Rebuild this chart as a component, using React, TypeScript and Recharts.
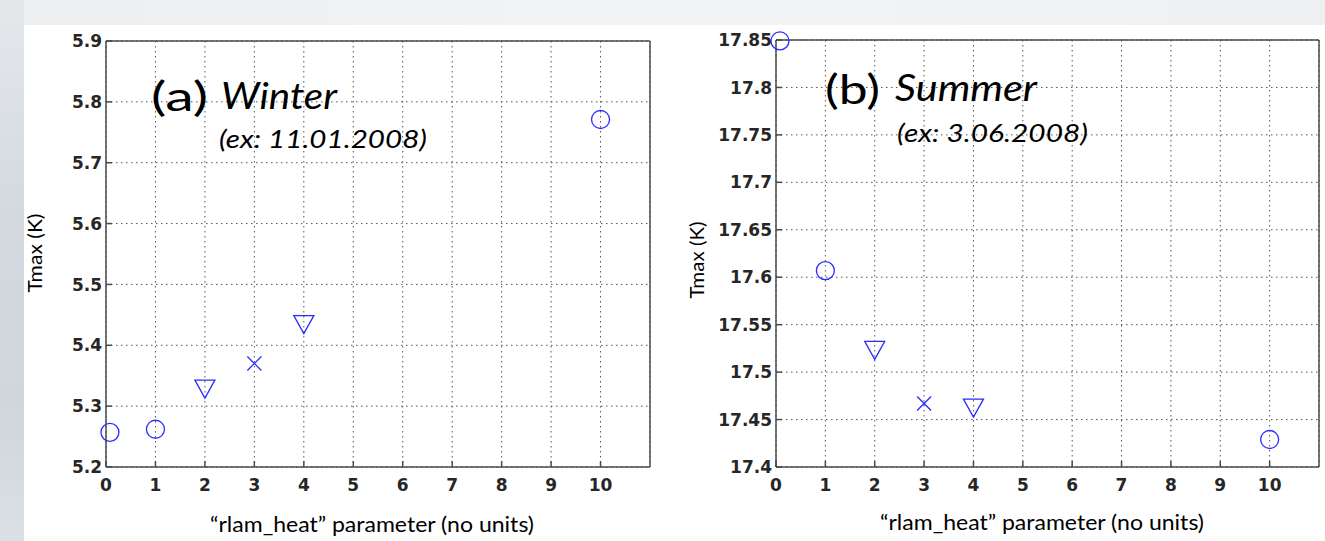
import React from "react";
import { ScatterChart, Scatter, XAxis, YAxis, CartesianGrid } from "recharts";

// values
const RLAM_X = [0.08, 1, 2, 3, 4, 10];
const WINTER_TMAX = [5.257, 5.262, 5.328, 5.37, 5.434, 5.771];
const SUMMER_TMAX = [17.849, 17.607, 17.523, 17.467, 17.462, 17.429];
const MARKERS = ["o", "o", "v", "x", "v", "o"];

const X_TICKS = [0, 1, 2, 3, 4, 5, 6, 7, 8, 9, 10];
const WINTER_TICKS = [5.2, 5.3, 5.4, 5.5, 5.6, 5.7, 5.8, 5.9];
const SUMMER_TICKS = [17.4, 17.45, 17.5, 17.55, 17.6, 17.65, 17.7, 17.75, 17.8, 17.85];

const BLUE = "#2b2bff";
const AXIS = "#4a4a4a";

const fmt = (v: number) => String(Number(v.toFixed(2)));

const tickText = {
  fontFamily: "'DejaVu Sans', Verdana, sans-serif",
  fontWeight: 600,
  fontSize: 17,
  fill: "#262626",
};

// MATLAB style tick text, heavier than the default
function XTick(props: any) {
  const { x, y, payload } = props;
  return (
    <text x={x} y={y} dy="0.71em" textAnchor="middle" style={tickText}>
      {fmt(payload.value)}
    </text>
  );
}

function YTick(props: any) {
  const { x, y, payload } = props;
  return (
    <text x={x} y={y} dy="0.36em" textAnchor="end" style={tickText}>
      {fmt(payload.value)}
    </text>
  );
}

function Marker(props: any) {
  const { cx, cy, payload } = props;
  if (cx == null || cy == null) return null;
  const common = { stroke: BLUE, strokeWidth: 1.3, fill: "none" };
  if (payload.marker === "v") {
    return <polygon points={`${cx - 10},${cy - 9} ${cx + 10},${cy - 9} ${cx},${cy + 9}`} {...common} />;
  }
  if (payload.marker === "x") {
    return (
      <g {...common}>
        <line x1={cx - 7} y1={cy - 7} x2={cx + 7} y2={cy + 7} />
        <line x1={cx - 7} y1={cy + 7} x2={cx + 7} y2={cy - 7} />
      </g>
    );
  }
  return <circle cx={cx} cy={cy} r={9} {...common} />;
}

function Panel({
  values,
  yTicks,
  width,
  margin,
  yWidth,
}: {
  values: number[];
  yTicks: number[];
  width: number;
  margin: { top: number; right: number; bottom: number; left: number };
  yWidth: number;
}) {
  const data = RLAM_X.map((x, i) => ({ x, y: values[i], marker: MARKERS[i] }));
  const domain = [yTicks[0], yTicks[yTicks.length - 1]];
  return (
    <ScatterChart width={width} height={541} margin={margin}>
      <CartesianGrid stroke="#555" strokeDasharray="1.5 3.5" />
      <XAxis
        type="number"
        dataKey="x"
        domain={[0, 11]}
        ticks={X_TICKS}
        interval={0}
        height={40}
        tickSize={-6}
        tickMargin={18}
        axisLine={{ stroke: AXIS, strokeWidth: 1.5 }}
        tickLine={{ stroke: AXIS, strokeWidth: 1.5 }}
        tick={<XTick />}
      />
      <XAxis
        xAxisId="top"
        orientation="top"
        type="number"
        domain={[0, 11]}
        ticks={X_TICKS}
        height={1}
        tickSize={-6}
        tick={false}
        axisLine={{ stroke: AXIS, strokeWidth: 1.5 }}
        tickLine={{ stroke: AXIS, strokeWidth: 1.5 }}
      />
      <YAxis
        type="number"
        dataKey="y"
        domain={domain}
        ticks={yTicks}
        interval={0}
        width={yWidth}
        tickSize={-6}
        tickMargin={10}
        axisLine={{ stroke: AXIS, strokeWidth: 1.5 }}
        tickLine={{ stroke: AXIS, strokeWidth: 1.5 }}
        tick={<YTick />}
      />
      <YAxis
        yAxisId="right"
        orientation="right"
        type="number"
        domain={domain}
        ticks={yTicks}
        width={1}
        tickSize={-6}
        tick={false}
        axisLine={{ stroke: AXIS, strokeWidth: 1.5 }}
        tickLine={{ stroke: AXIS, strokeWidth: 1.5 }}
      />
      <Scatter data={data} shape={Marker} isAnimationActive={false} />
    </ScatterChart>
  );
}

const label = { fontFamily: "Lato", fill: "#000" };
const stretch = "spacingAndGlyphs";

export default function App() {
  return (
    <div
      style={{
        position: "absolute",
        left: 0,
        top: 0,
        width: 1325,
        height: 541,
        overflow: "hidden",
        background: "#ffffff",
      }}
    >
      <div
        style={{
          position: "absolute",
          left: 0,
          top: 0,
          width: 1325,
          height: 25,
          background: "linear-gradient(90deg, #eceef0, #f3f4f5 50%, #eef0f2)",
        }}
      />
      <div
        style={{
          position: "absolute",
          left: 0,
          top: 0,
          width: 24,
          height: 541,
          background: "linear-gradient(180deg, #e5e8eb, #d3d9df 40%, #cfd6dc 75%, #dbe0e5)",
        }}
      />
      <div style={{ position: "absolute", left: 0, top: 0 }}>
        <Panel
          values={WINTER_TMAX}
          yTicks={WINTER_TICKS}
          width={660}
          yWidth={60}
          margin={{ top: 40, right: 9, bottom: 34, left: 46 }}
        />
      </div>
      <div style={{ position: "absolute", left: 660, top: 0 }}>
        <Panel
          values={SUMMER_TMAX}
          yTicks={SUMMER_TICKS}
          width={665}
          yWidth={70}
          margin={{ top: 39, right: 5, bottom: 34, left: 46 }}
        />
      </div>
      <svg
        width={1325}
        height={541}
        style={{ position: "absolute", left: 0, top: 0, pointerEvents: "none" }}
      >
        <text x={151} y={111} fontSize={40} textLength={57} lengthAdjust={stretch} {...label}>(a)</text>
        <text x={221} y={109} fontSize={36} fontStyle="italic" textLength={116} lengthAdjust={stretch} {...label}>Winter</text>
        <text x={219} y={148} fontSize={25} fontStyle="italic" textLength={208} lengthAdjust={stretch} {...label}>(ex: 11.01.2008)</text>

        <text x={825} y={104} fontSize={40} textLength={55} lengthAdjust={stretch} {...label}>(b)</text>
        <text x={895} y={101} fontSize={36} fontStyle="italic" textLength={142} lengthAdjust={stretch} {...label}>Summer</text>
        <text x={897} y={142} fontSize={25} fontStyle="italic" textLength={191} lengthAdjust={stretch} {...label}>(ex: 3.06.2008)</text>

        <text x={35} y={253} dy="0.35em" fontSize={20} textAnchor="middle" textLength={79} lengthAdjust={stretch} transform="rotate(-90, 35, 253)" {...label}>
          Tmax (K)
        </text>
        <text x={697} y={260} dy="0.35em" fontSize={20} textAnchor="middle" textLength={77} lengthAdjust={stretch} transform="rotate(-90, 697, 260)" {...label}>
          Tmax (K)
        </text>
        <text x={372} y={532} fontSize={21} textAnchor="middle" textLength={324} lengthAdjust={stretch} {...label}>
          “rlam_heat” parameter (no units)
        </text>
        <text x={1042} y={530} fontSize={21} textAnchor="middle" textLength={324} lengthAdjust={stretch} {...label}>
          “rlam_heat” parameter (no units)
        </text>
      </svg>
    </div>
  );
}
